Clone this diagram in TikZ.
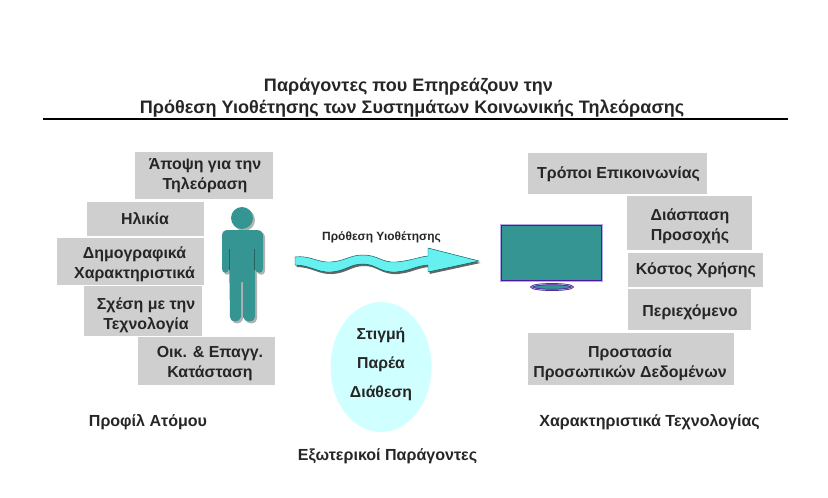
\documentclass[tikz,border=0pt]{standalone}
\usepackage{fontspec}
\setmainfont{Liberation Sans}
\usepackage{tikz}
\usetikzlibrary{shapes.geometric, positioning}
\definecolor{boxgrey}{HTML}{CFCFCF}
\definecolor{tealfill}{HTML}{359593}
\definecolor{tealdark}{HTML}{24615F}
\definecolor{tvedge}{HTML}{4B1A9A}
\definecolor{tvinner}{HTML}{B8A8E8}
\definecolor{wavefill}{HTML}{66F0F0}
\definecolor{moodfill}{HTML}{CFFFFF}
\definecolor{textgrey}{HTML}{262626}
\tikzstyle{boxfill} = [fill=boxgrey]
\tikzstyle{factor} = [text=textgrey, align=center, font=\fontsize{13.6}{17}\selectfont\bfseries, inner sep=0pt]
\tikzstyle{caption} = [text=textgrey, align=center, font=\fontsize{13.7}{17}\selectfont\bfseries, inner sep=0pt]
\tikzstyle{tvpart} = [fill=tealfill, draw=tvedge, line width=0.6pt, double=tvinner, double distance=0.5pt, inner sep=0pt]
\newcommand{\personshape}{(242,218) circle (11)
    (228,230) -- (256,230) .. controls (261,230) and (263,232) .. (263,236) -- (263,269) .. controls (263,274) and (256,274) .. (255,269) -- (255,249) -- (255,317) .. controls (255,323) and (244,323) .. (243,317) -- (243,282) -- (241,282) -- (241,317) .. controls (240,323) and (230,323) .. (230,317) -- (229,249) -- (229,269) .. controls (228,274) and (222,274) .. (222,269) -- (222,236) .. controls (222,232) and (224,230) .. (228,230) -- cycle}
\newcommand{\waveshape}{(295,257) .. controls (310,255) and (318,263) .. (331,262) .. controls (345,261) and (350,255) .. (363,255) .. controls (378,255) and (382,263) .. (396,262) .. controls (410,261) and (418,257) .. (428,256) -- (428,248) -- (479,261) -- (428,272) -- (428,265) .. controls (415,266) and (410,271) .. (396,272) .. controls (380,273) and (376,264) .. (363,264) .. controls (350,264) and (346,271) .. (331,272) .. controls (318,273) and (310,265) .. (295,265) -- cycle}
\begin{document}
\begin{tikzpicture}[x=0.03cm, y=-0.03cm]
    \useasboundingbox (0,0) rectangle (828,498);
    % title
    \node (title) [caption, font=\fontsize{15.4}{18.7}\selectfont\bfseries] at (412,98) {\hspace*{-6pt}Παράγοντες που Επηρεάζουν την\\Πρόθεση Υιοθέτησης των Συστημάτων Κοινωνικής Τηλεόρασης};
    \coordinate (ruleL) at (43,119);
    \coordinate (ruleR) at (788,119);
    \draw [line width=1.5pt, black] (ruleL) -- (ruleR);
    % left boxes
    \fill [boxfill] (135,152) rectangle (273,199);
    \fill [boxfill] (87,202) rectangle (204,236);
    \fill [boxfill] (57,238) rectangle (204,285);
    \fill [boxfill] (84,286) rectangle (202,336);
    \fill [boxfill] (138,337) rectangle (275,385);
    \node (opinion) [factor] at (205,176) {Άποψη για την\\Τηλεόραση};
    \node (age) [factor] at (145,218.5) {Ηλικία};
    \node (demo) [factor] at (134.5,264.5) {Δημογραφικά\\Χαρακτηριστικά};
    \node (tech) [factor] at (146,315) {Σχέση με την\\Τεχνολογία};
    \node (work) [factor] at (210,363.5) {Οικ. \& Επαγγ.\\Κατάσταση};
    % person
    \fill [black!30, shift={(2,2)}] \personshape;
    \fill [tealfill] \personshape;
    \draw [tealdark, line width=0.5pt] (229.5,249) -- (229.5,270) (254.5,249) -- (254.5,270);
    % wavy arrow
    \node (intent) [caption, font=\fontsize{10.2}{12}\selectfont\bfseries] at (381.5,237) {Πρόθεση Υιοθέτησης};
    \fill [black!60, shift={(1.5,2)}] \waveshape;
    \fill [wavefill, draw=teal!70!black, line width=0.4pt] \waveshape;
    % television
    \node (screen) [rectangle, tvpart, minimum width=87pt, minimum height=48.5pt] at (551.5,253) {};
    \node (stand) [ellipse, tvpart, minimum width=35pt, minimum height=5pt] at (552,287) {};
    % mood
    \fill [moodfill] (381,367) ellipse [x radius=50.5, y radius=65];
    \node (mood) [factor, font=\fontsize{13.5}{24.7}\selectfont\bfseries] at (381,364) {Στιγμή\\Παρέα\\Διάθεση};
    % right boxes
    \fill [boxfill] (528,153) rectangle (707,194);
    \fill [boxfill] (627,196) rectangle (752,250);
    \fill [boxfill] (628,253) rectangle (763,287);
    \fill [boxfill] (628,289) rectangle (751,330);
    \fill [boxfill] (528,333) rectangle (734,385);
    \node (comm) [factor] at (618.5,174) {Τρόποι Επικοινωνίας};
    \node (attention) [factor] at (690,226) {Διάσπαση\\Προσοχής};
    \node (cost) [factor] at (696,270) {Κόστος Χρήσης};
    \node (content) [factor] at (690,312) {Περιεχόμενο};
    \node (privacy) [factor] at (630,363) {Προστασία\\Προσωπικών Δεδομένων};
    % captions
    \node (profile) [caption] at (148,422) {Προφίλ Ατόμου};
    \node (external) [caption] at (387.5,456) {Εξωτερικοί Παράγοντες};
    \node (features) [caption] at (649.5,422) {Χαρακτηριστικά Τεχνολογίας};
\end{tikzpicture}
\end{document}
